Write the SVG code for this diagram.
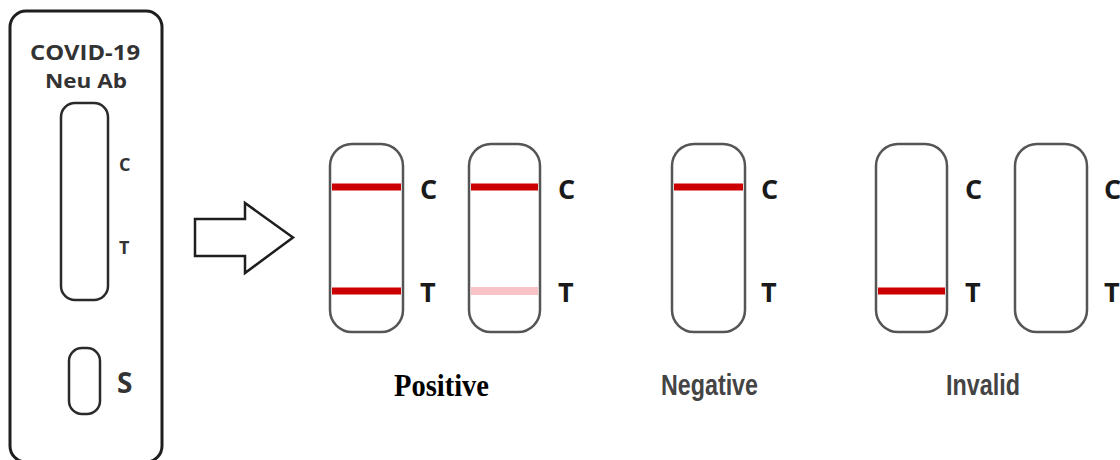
<svg xmlns="http://www.w3.org/2000/svg" width="1120" height="460" viewBox="0 0 1120 460">
<style>
.cas{fill:#fff;stroke:#1e1e1e;stroke-width:3}
.win{fill:#fff;stroke:#2a2a2a;stroke-width:2.5}
.strip{fill:#fff;stroke:#555;stroke-width:2.5}
.red{fill:#cc0000}
.pink{fill:#f8c3c7}
.lbl{font-family:"Open Sans","DejaVu Sans",sans-serif;font-weight:700;fill:#1a1a1a}
.ct{font-size:27px}
.cas-t{fill:#333}
</style>
<rect width="1120" height="460" fill="#fff"/>
<g id="cassette">
  <rect class="cas" x="10" y="11" width="152" height="451" rx="16"/>
  <text class="lbl cas-t" x="85" y="60" font-size="21" text-anchor="middle" textLength="110" lengthAdjust="spacingAndGlyphs">COVID-19</text>
  <text class="lbl cas-t" x="86" y="88" font-size="20" text-anchor="middle" textLength="82" lengthAdjust="spacingAndGlyphs">Neu Ab</text>
  <rect class="win" x="61" y="103" width="47" height="197" rx="14"/>
  <text class="lbl cas-t" x="119" y="171" font-size="18">C</text>
  <text class="lbl cas-t" x="119" y="254" font-size="18">T</text>
  <rect class="win" x="69" y="348" width="31" height="66" rx="13"/>
  <text class="lbl cas-t" x="117" y="393" font-size="28">S</text>
</g>
<g id="connectors">
  <polygon points="195,219 245,219 245,203 293,237.5 245,273 245,256 195,256" fill="#fff" stroke="#1e1e1e" stroke-width="2.5" stroke-linejoin="miter"/>
</g>
<g id="strip1">
  <rect class="strip" x="330" y="144" width="73" height="188" rx="22"/>
  <rect class="red" x="332" y="183.5" width="69" height="7"/>
  <rect class="red" x="332" y="287.5" width="69" height="7"/>
  <text class="lbl ct" x="420" y="199">C</text>
  <text class="lbl ct" x="420" y="302">T</text>
</g>
<g id="strip2">
  <rect class="strip" x="469" y="144" width="71" height="188" rx="22"/>
  <rect class="red" x="471" y="183.5" width="67" height="7"/>
  <rect class="pink" x="471" y="287" width="67" height="8"/>
  <text class="lbl ct" x="558" y="199">C</text>
  <text class="lbl ct" x="558" y="302">T</text>
</g>
<g id="strip3">
  <rect class="strip" x="672" y="144" width="73" height="188" rx="22"/>
  <rect class="red" x="674" y="183.5" width="69" height="7"/>
  <text class="lbl ct" x="761" y="199">C</text>
  <text class="lbl ct" x="761" y="302">T</text>
</g>
<g id="strip4">
  <rect class="strip" x="876" y="144" width="71" height="188" rx="22"/>
  <rect class="red" x="878" y="287.5" width="67" height="7"/>
  <text class="lbl ct" x="965" y="199">C</text>
  <text class="lbl ct" x="965" y="302">T</text>
</g>
<g id="strip5">
  <rect class="strip" x="1015" y="144" width="72" height="188" rx="22"/>
  <text class="lbl ct" x="1104" y="199">C</text>
  <text class="lbl ct" x="1104" y="302">T</text>
</g>
<g id="label-positive">
  <text x="394" y="396" font-family="'Liberation Serif','Times New Roman',serif" font-weight="700" font-size="31" fill="#000" textLength="95" lengthAdjust="spacingAndGlyphs">Positive</text>
</g>
<g id="label-negative">
  <text x="661" y="395" font-family="'Liberation Sans',Arial,sans-serif" font-weight="700" font-size="30" fill="#444" textLength="97" lengthAdjust="spacingAndGlyphs">Negative</text>
</g>
<g id="label-invalid">
  <text x="946" y="395" font-family="'Liberation Sans',Arial,sans-serif" font-weight="700" font-size="30" fill="#444" textLength="74" lengthAdjust="spacingAndGlyphs">Invalid</text>
</g>
</svg>
